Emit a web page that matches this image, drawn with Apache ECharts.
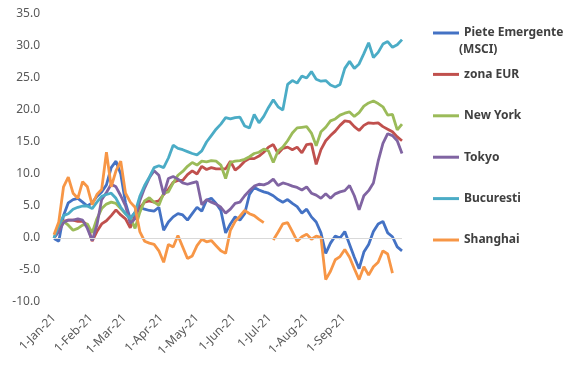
<!DOCTYPE html>
<html>
<head>
<meta charset="utf-8">
<script src="https://cdn.jsdelivr.net/npm/echarts@6/dist/echarts.min.js"></script>
<style>html,body{margin:0;padding:0;background:#fff}#c{width:575px;height:369px}</style>
</head>
<body>
<div id="c"></div>
<script>
const dates = ['2021-01-01','2021-01-05','2021-01-09','2021-01-13','2021-01-17','2021-01-21','2021-01-25','2021-01-29',
'2021-02-02','2021-02-06','2021-02-10','2021-02-14','2021-02-18','2021-02-22','2021-02-26',
'2021-03-02','2021-03-06','2021-03-10','2021-03-14','2021-03-18','2021-03-22','2021-03-26','2021-03-30',
'2021-04-03','2021-04-07','2021-04-11','2021-04-15','2021-04-19','2021-04-23','2021-04-27',
'2021-05-01','2021-05-05','2021-05-09','2021-05-13','2021-05-17','2021-05-21','2021-05-25','2021-05-29',
'2021-06-02','2021-06-06','2021-06-10','2021-06-14','2021-06-18','2021-06-22','2021-06-26','2021-06-30',
'2021-07-04','2021-07-08','2021-07-12','2021-07-16','2021-07-20','2021-07-24','2021-07-28',
'2021-08-01','2021-08-05','2021-08-09','2021-08-13','2021-08-17','2021-08-21','2021-08-25','2021-08-29',
'2021-09-02','2021-09-06','2021-09-10','2021-09-14','2021-09-18','2021-09-22','2021-09-26','2021-09-30',
'2021-10-04','2021-10-08','2021-10-12','2021-10-16','2021-10-20'];

const seriesNames = ['Piete Emergente (MSCI)','zona EUR','New York','Tokyo','Bucuresti','Shanghai'];

const pieteEmergente = [-0.1,-0.5,3.5,5.5,6.0,6.2,5.6,5.0,5.5,6.5,7.2,8.3,11.0,12.0,10.0,5.5,3.0,4.0,4.8,4.5,4.3,4.2,4.8,1.2,2.5,3.3,3.8,3.6,2.8,3.8,4.8,4.2,5.9,6.2,5.4,4.3,0.8,2.2,3.3,2.8,3.8,6.8,7.9,7.5,7.2,7.0,6.6,6.0,5.6,6.0,5.4,4.9,3.9,4.5,3.3,2.5,0.8,-2.4,-0.8,0.3,0.0,1.0,-1.0,-3.0,-4.8,-2.2,-1.0,1.0,2.2,2.6,0.8,0.2,-1.4,-2.0];
const zonaEUR = [0,1.3,2.6,2.8,2.8,2.6,2.6,2.0,-0.5,1.0,2.2,2.7,3.5,4.4,3.6,3.0,1.6,3.5,4.7,5.6,5.8,5.6,5.8,6.8,7.6,8.7,9.0,9.0,9.9,10.5,10.0,11.2,10.7,11.0,10.8,10.8,10.8,12.0,10.6,11.2,12.0,12.4,12.4,12.8,13.4,14.2,14.6,13.2,14.0,14.2,13.8,14.2,13.3,14.6,14.7,11.5,13.8,15.2,16.0,16.7,17.6,18.3,18.2,17.4,16.8,17.6,18.0,17.9,18.0,17.4,17.0,16.6,15.8,15.2];
const newYork = [0,1.5,2.6,2.0,1.2,1.5,2.0,2.2,0.8,3.0,4.6,5.3,5.6,5.4,4.6,3.8,3.2,1.5,4.0,5.8,6.3,5.6,5.1,7.0,7.2,8.6,9.8,10.4,11.2,11.8,11.4,12.0,11.9,12.1,12.0,11.4,9.3,11.8,12.0,12.1,12.3,12.7,13.2,13.4,13.9,13.6,11.8,13.6,14.2,15.2,16.4,17.2,17.3,17.4,16.4,14.4,16.6,17.3,18.3,18.6,19.2,19.5,19.7,19.0,19.6,20.6,21.1,21.4,21.0,20.5,19.2,19.3,16.9,17.8];
const tokyo = [0,1.0,2.4,2.8,2.8,3.0,2.8,1.5,-0.4,2.0,6.0,7.1,8.4,8.0,6.6,5.0,2.3,3.0,5.8,7.8,9.4,10.5,9.8,6.8,9.3,9.6,9.2,8.6,8.4,8.6,8.8,5.2,6.0,5.6,5.3,4.8,3.9,4.5,5.4,5.6,6.6,7.4,8.1,8.4,8.3,8.6,9.2,8.2,8.6,8.4,8.1,7.9,7.5,8.0,7.0,6.7,6.2,6.9,6.2,6.9,7.2,7.4,8.2,6.6,4.4,6.6,7.4,8.6,12.0,14.8,16.3,16.0,15.2,13.2];
const bucuresti = [0,2.0,3.5,3.8,4.5,4.8,5.0,5.0,4.6,5.6,6.5,6.8,7.0,6.2,4.8,3.8,3.0,4.0,6.5,8.2,9.5,11.0,11.3,11.0,12.5,14.5,14.0,13.8,13.5,13.2,13.0,13.6,15.0,16.0,17.0,17.8,18.8,18.6,18.8,18.9,17.5,17.2,19.3,18.0,19.0,20.4,21.6,20.5,20.0,24.0,24.6,24.2,25.3,25.0,26.0,24.8,24.5,24.6,23.9,23.6,24.0,26.5,27.6,26.5,27.2,28.8,30.5,28.2,29.0,30.3,30.7,29.8,30.2,31.0];
const shanghai = [0.5,2.5,8.0,9.5,7.0,6.2,8.8,8.0,5.2,6.8,7.6,13.4,8.0,10.5,12.0,7.0,5.6,4.8,1.0,-0.5,-0.8,-1.0,-2.0,-3.8,-1.0,-1.4,0.4,-1.4,-3.2,-2.8,-1.2,-0.2,-0.6,-0.4,-1.2,-2.0,-2.4,1.2,2.6,3.4,4.3,3.8,3.5,2.9,2.4,null,-0.3,0.9,2.2,2.4,1.0,-0.5,0.2,0.6,-0.2,0.3,0.1,-6.5,-5.2,-3.4,-2.9,-1.8,-3.0,-4.8,-6.5,-4.5,-5.8,-4.5,-3.8,-2.0,-2.5,-5.5,null,null];

const tickDates = ['2021-01-01','2021-02-01','2021-03-01','2021-04-01','2021-05-01','2021-06-01','2021-07-01','2021-08-01','2021-09-01'];
const tickLabels = ['1-Jan-21','1-Feb-21','1-Mar-21','1-Apr-21','1-May-21','1-Jun-21','1-Jul-21','1-Aug-21','1-Sep-21'];
const yTicks = [-10,-5,0,5,10,15,20,25,30,35];

const colors = ['#4472C4','#C0504D','#9BBB59','#8064A2','#4BACC6','#F79646'];
const values = [pieteEmergente, zonaEUR, newYork, tokyo, bucuresti, shanghai];

const toTs = d => +echarts.time.parse(d);
const tickTs = tickDates.map(toTs);
const font = '"Noto Sans", sans-serif';

const chart = echarts.init(document.getElementById('c'), null, {renderer: 'canvas'});
const series = seriesNames.map((name, k) => {
  const s = {
    name: name,
    type: 'line',
    showSymbol: false,
    symbol: 'none',
    connectNulls: false,
    animation: false,
    lineStyle: {color: colors[k], width: 2.8},
    itemStyle: {color: colors[k]},
    data: dates.map((d, i) => [toTs(d), values[k][i]])
  };
  if (k === 0) {
    s.markLine = {
      silent: true, symbol: 'none', animation: false,
      label: {show: false},
      lineStyle: {color: '#d9d9d9', type: 'solid', width: 1},
      data: [{yAxis: 0}]
    };
  }
  return s;
});

chart.setOption({
  animation: false,
  backgroundColor: '#ffffff',
  grid: {left: 54, right: 173, top: 14, bottom: 67, containLabel: false, outerBoundsMode: 'none'},
  xAxis: {
    type: 'value',
    min: toTs(dates[0]),
    max: toTs(dates[dates.length - 1]),
    axisLine: {show: false},
    axisTick: {show: false},
    splitLine: {show: false},
    axisLabel: {
      rotate: 45,
      margin: 14,
      fontSize: 12,
      fontFamily: font,
      color: '#595959',
      customValues: tickTs,
      hideOverlap: false,
      showMinLabel: true,
      showMaxLabel: true,
      formatter: function (v) {
        const i = tickTs.indexOf(+v);
        return i >= 0 ? tickLabels[i] : '';
      }
    }
  },
  yAxis: {
    type: 'value',
    min: yTicks[0],
    max: yTicks[yTicks.length - 1],
    interval: 5,
    axisLine: {show: false},
    axisTick: {show: false},
    splitLine: {show: false},
    axisLabel: {
      margin: 14,
      fontSize: 12,
      fontFamily: font,
      color: '#595959',
      formatter: v => v.toFixed(1)
    }
  },
  legend: {
    orient: 'vertical',
    left: 428,
    top: 20,
    icon: 'rect',
    itemWidth: 26,
    itemHeight: 3,
    itemGap: 25.4,
    selectedMode: false,
    textStyle: {fontSize: 12, fontWeight: 'bold', fontFamily: font, color: '#404040', lineHeight: 16},
    formatter: n => n === 'Piete Emergente (MSCI)' ? 'Piete Emergente' : n,
    data: seriesNames
  },
  graphic: [{
    type: 'text', left: 459, top: 44,
    style: {text: '(MSCI)', font: 'bold 12px "Noto Sans", sans-serif', fill: '#404040'}
  }],
  series: series
});
</script>
</body>
</html>
